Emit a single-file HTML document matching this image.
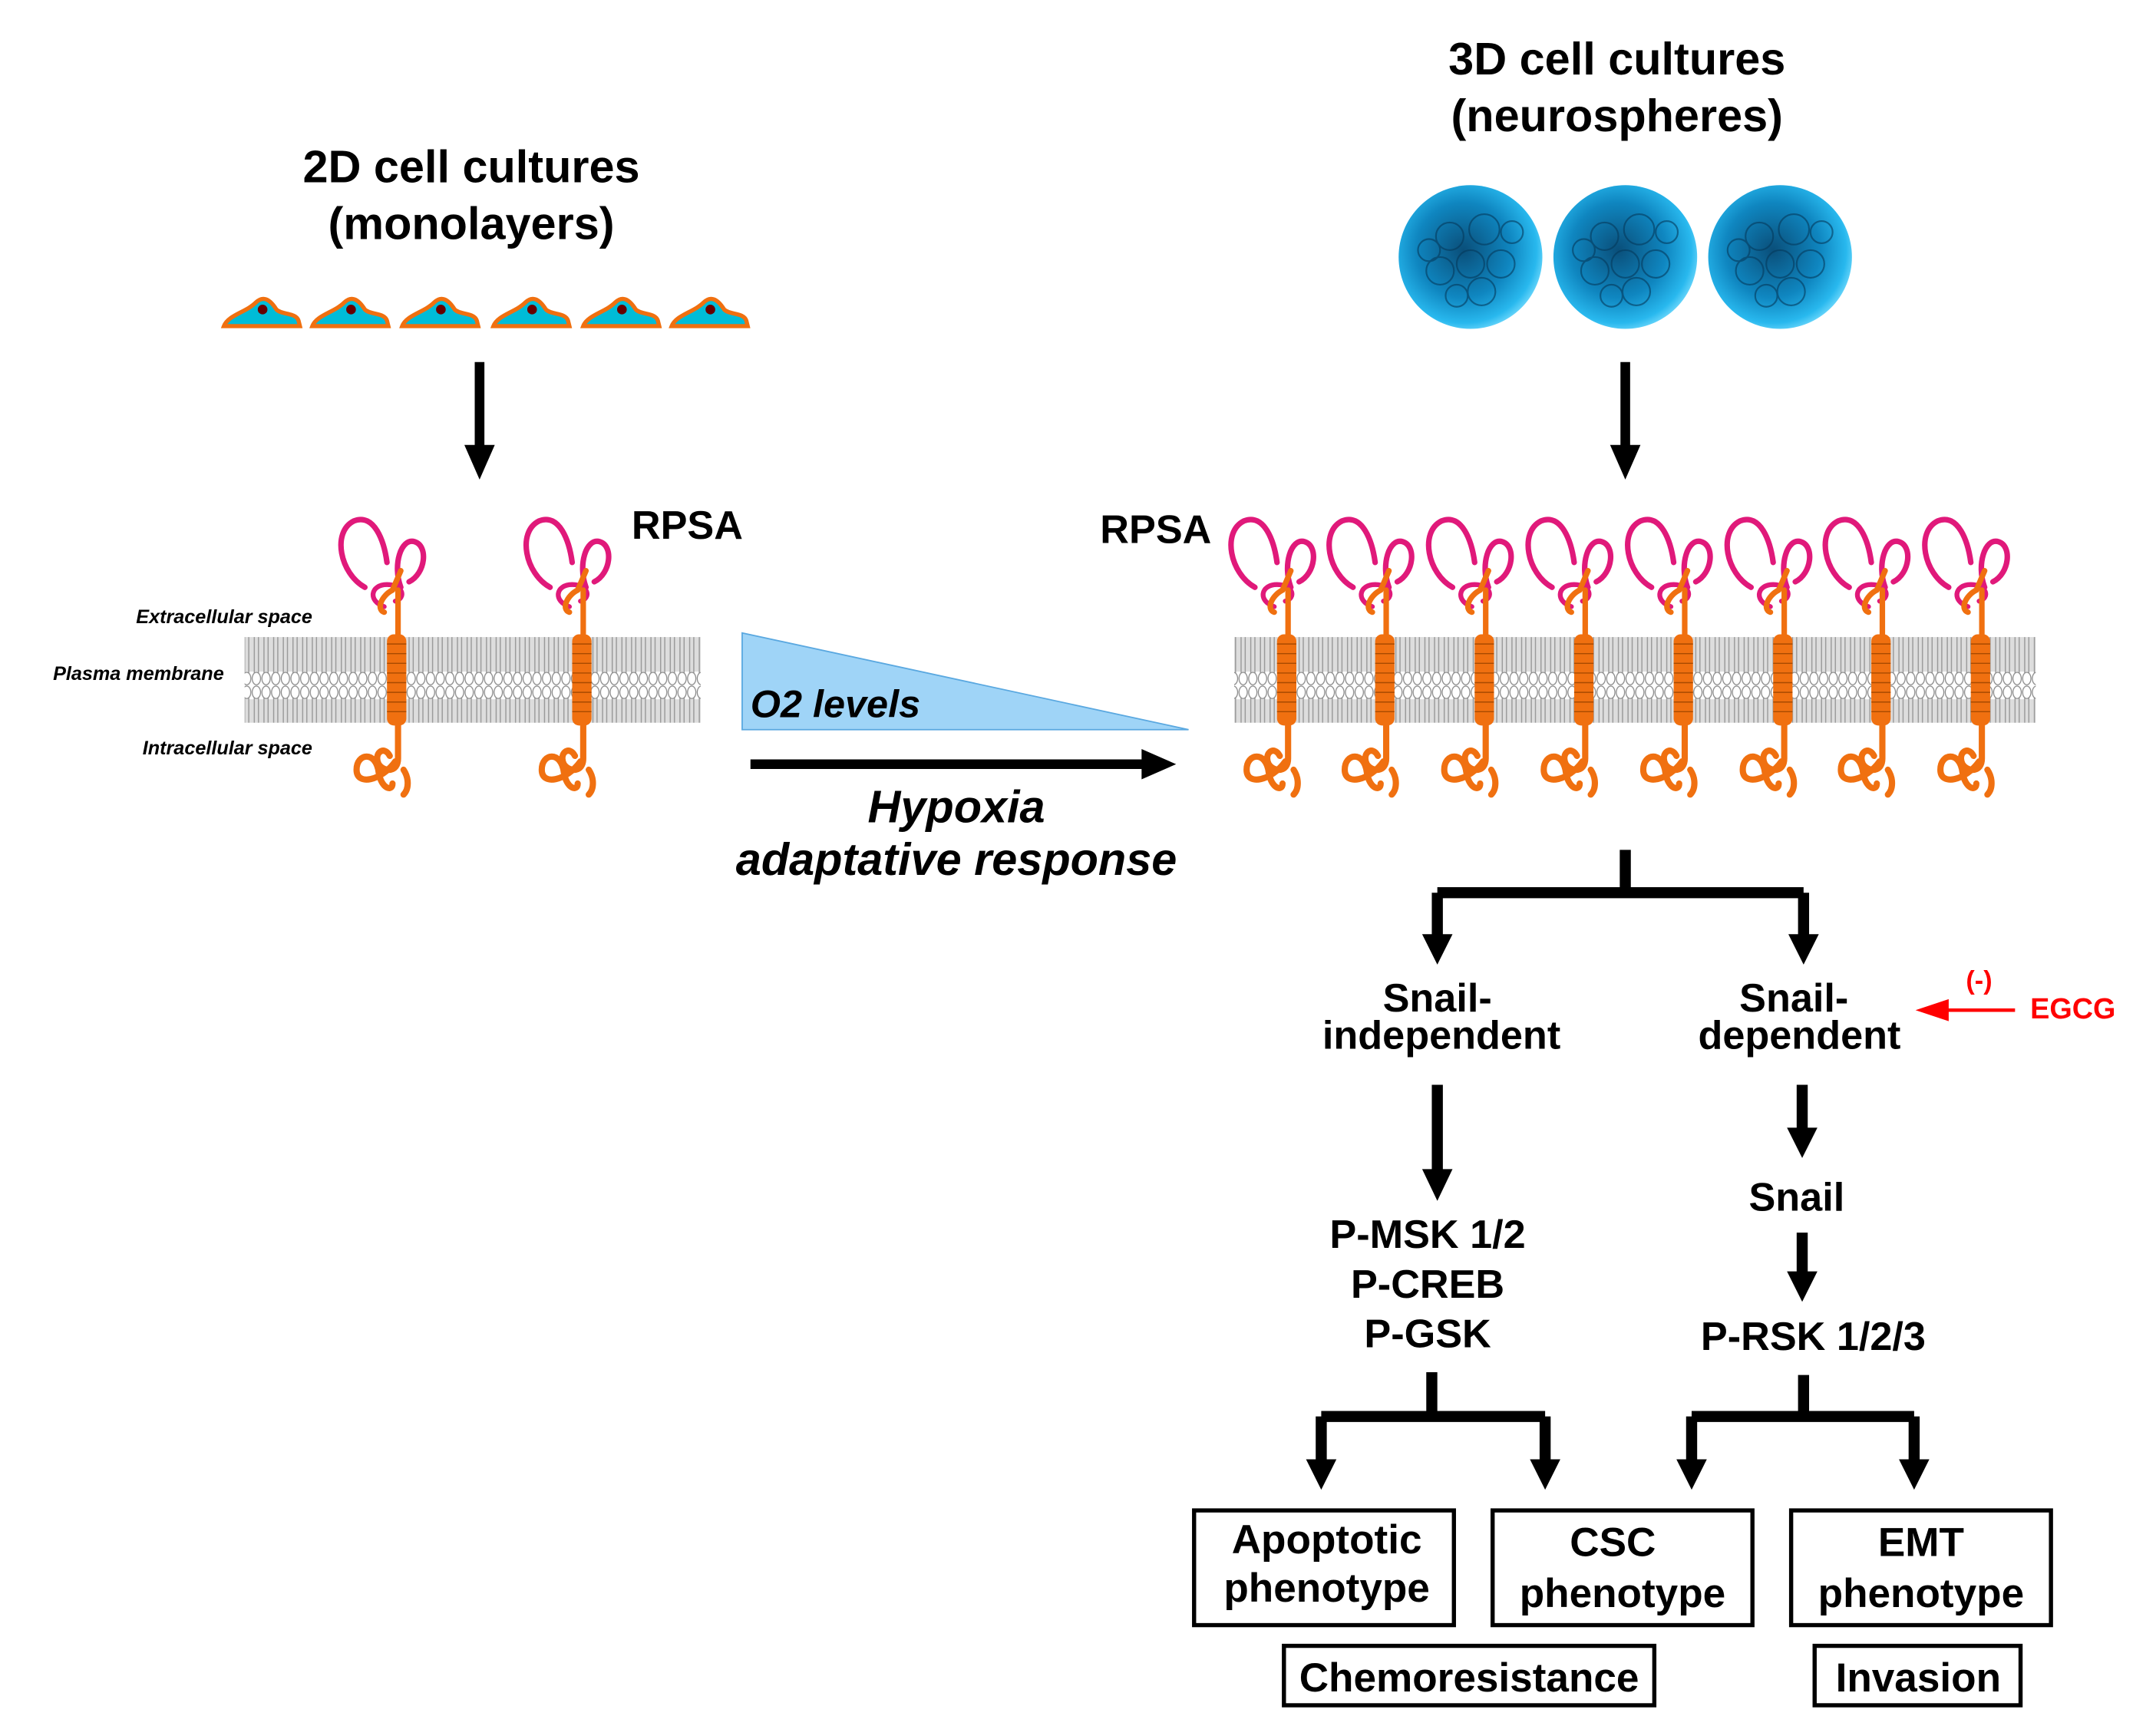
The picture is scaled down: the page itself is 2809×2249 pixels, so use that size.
<!DOCTYPE html>
<html><head><meta charset="utf-8"><style>
html,body{margin:0;padding:0;background:#fff;}
svg{display:block;}
text{font-family:"Liberation Sans",Arial,sans-serif;font-weight:bold;}
</style></head><body>
<svg width="2809" height="2249" viewBox="0 0 1560 1249" xmlns="http://www.w3.org/2000/svg">
<defs>
<pattern id="lip" x="0" y="0" width="7" height="62" patternUnits="userSpaceOnUse">
<rect x="0" y="0" width="7" height="62" fill="#fff"/>
<rect x="0" y="10" width="7" height="42" fill="#cfcfcf" opacity="0.7"/>
<line x1="2" y1="7" x2="2" y2="55" stroke="#999" stroke-width="0.8"/>
<line x1="5" y1="7" x2="5" y2="55" stroke="#999" stroke-width="0.8"/>
<ellipse cx="3.5" cy="5" rx="3" ry="4.5" fill="#fff" stroke="#888" stroke-width="0.7"/>
<ellipse cx="3.5" cy="57" rx="3" ry="4.5" fill="#fff" stroke="#888" stroke-width="0.7"/>
</pattern>
<radialGradient id="sph" cx="0.45" cy="0.45" r="0.6">
<stop offset="0" stop-color="#0a4f7a"/><stop offset="0.55" stop-color="#0f86c0"/><stop offset="0.85" stop-color="#28b8ee"/><stop offset="1" stop-color="#7fe0ff"/>
</radialGradient>
<symbol id="rec" viewBox="-40 -90 80 200" width="80" height="200" overflow="visible">
<g fill="none" stroke-linecap="round">
<path d="M-22,-22 C-40,-32 -46,-62 -30,-70 C-15,-76 -8,-55 -6,-40" stroke="#e0197a" stroke-width="4"/>
<path d="M4,-22 C-2,-38 4,-58 14,-55 C24,-52 22,-32 10,-26" stroke="#e0197a" stroke-width="4"/>
<path d="M-8,-8 C-20,-12 -18,-24 -6,-24 C6,-24 8,-14 0,-12" stroke="#e0197a" stroke-width="3.5"/>
<path d="M4,-34 L-2,-20 C-10,-16 -14,-6 -8,-4 M2,-20 L2,14" stroke="#f07010" stroke-width="4"/>
<path d="M2,76 L2,102 C2,112 -8,112 -12,106 C-16,98 -8,92 -4,100 M0,104 C-10,118 -28,122 -28,110 C-28,98 -14,96 -12,112 C-10,124 -2,126 -2,120 M6,110 C10,116 10,124 6,128" stroke="#f07010" stroke-width="4.5"/>
</g>
<rect x="-6" y="12" width="14" height="66" rx="5" fill="#f07010"/>
<g stroke="#a84a00" stroke-width="0.8" fill="none">
<path d="M-6,19 h14 M-6,26 h14 M-6,33 h14 M-6,40 h14 M-6,47 h14 M-6,54 h14 M-6,61 h14 M-6,68 h14"/>
</g>
</symbol>
<g id="bumps" fill="none" stroke="#053a5c" stroke-width="1.2" opacity="0.6">
<circle cx="-15" cy="-15" r="10"/><circle cx="10" cy="-20" r="11"/><circle cx="22" cy="5" r="10"/><circle cx="0" cy="5" r="10"/><circle cx="-22" cy="10" r="10"/><circle cx="8" cy="25" r="10"/><circle cx="-10" cy="28" r="8"/><circle cx="-30" cy="-5" r="8"/><circle cx="30" cy="-18" r="8"/>
</g>
</defs>

<!-- titles -->
<text x="341" y="132" font-size="33" text-anchor="middle">2D cell cultures</text>
<text x="341" y="173" font-size="33" text-anchor="middle">(monolayers)</text>
<text x="1170" y="54" font-size="33" text-anchor="middle">3D cell cultures</text>
<text x="1170" y="95" font-size="33" text-anchor="middle">(neurospheres)</text>

<!-- cells -->
<g stroke="#f07010" stroke-width="3" fill="#00bcd8">
<path d="M162,236 C165,228 178,226 185,219 C190,214 195,216 200,224 C204,228 214,226 216,232 L217,236 Z"/>
<path d="M226,236 C229,228 242,226 249,219 C254,214 259,216 264,224 C268,228 278,226 280,232 L281,236 Z"/>
<path d="M291,236 C294,228 307,226 314,219 C319,214 324,216 329,224 C333,228 343,226 345,232 L346,236 Z"/>
<path d="M357,236 C360,228 373,226 380,219 C385,214 390,216 395,224 C399,228 409,226 411,232 L412,236 Z"/>
<path d="M422,236 C425,228 438,226 445,219 C450,214 455,216 460,224 C464,228 474,226 476,232 L477,236 Z"/>
<path d="M486,236 C489,228 502,226 509,219 C514,214 519,216 524,224 C528,228 538,226 540,232 L541,236 Z"/>
</g>
<g fill="#600"><circle cx="190" cy="224" r="3.5"/><circle cx="254" cy="224" r="3.5"/><circle cx="319" cy="224" r="3.5"/><circle cx="385" cy="224" r="3.5"/><circle cx="450" cy="224" r="3.5"/><circle cx="514" cy="224" r="3.5"/></g>

<!-- spheres -->
<circle cx="1064" cy="186" r="52" fill="url(#sph)"/>
<circle cx="1176" cy="186" r="52" fill="url(#sph)"/>
<circle cx="1288" cy="186" r="52" fill="url(#sph)"/>
<use href="#bumps" x="1064" y="186"/>
<use href="#bumps" x="1176" y="186"/>
<use href="#bumps" x="1288" y="186"/>

<!-- down arrows -->
<g stroke="#000" stroke-width="7">
<line x1="347" y1="262" x2="347" y2="325"/>
<line x1="1176" y1="262" x2="1176" y2="325"/>
</g>
<path d="M336,322 L358,322 L347,347 Z M1165,322 L1187,322 L1176,347 Z"/>

<!-- membranes -->
<rect x="177" y="461" width="330" height="62" fill="url(#lip)"/>
<rect x="893" y="461" width="580" height="62" fill="url(#lip)"/>
<text x="226" y="451" font-size="14" font-style="italic" font-weight="normal" text-anchor="end">Extracellular space</text>
<text x="162" y="492" font-size="14" font-style="italic" font-weight="normal" text-anchor="end">Plasma membrane</text>
<text x="226" y="546" font-size="14" font-style="italic" font-weight="normal" text-anchor="end">Intracellular space</text>

<!-- receptors -->
<g>
<use href="#rec" x="246" y="357"/>
<use href="#rec" x="380" y="357"/>
<use href="#rec" x="890" y="357"/>
<use href="#rec" x="961" y="357"/>
<use href="#rec" x="1033" y="357"/>
<use href="#rec" x="1105" y="357"/>
<use href="#rec" x="1177" y="357"/>
<use href="#rec" x="1249" y="357"/>
<use href="#rec" x="1320" y="357"/>
<use href="#rec" x="1392" y="357"/>
</g>
<text x="457" y="390" font-size="29">RPSA</text>
<text x="796" y="393" font-size="29">RPSA</text>

<!-- O2 triangle -->
<path d="M537,458 L537,528 L860,528 Z" fill="#9fd4f7" stroke="#5aa8e0" stroke-width="1"/>
<text x="543" y="519" font-size="28" font-style="italic">O2 levels</text>
<line x1="543" y1="553" x2="830" y2="553" stroke="#000" stroke-width="7"/>
<path d="M826,542 L851,553 L826,564 Z"/>
<text x="692" y="595" font-size="33" font-style="italic" text-anchor="middle">Hypoxia</text>
<text x="692" y="633" font-size="33" font-style="italic" text-anchor="middle">adaptative response</text>

<!-- tree -->
<g stroke="#000" stroke-width="8" fill="none">
<path d="M1176,615 V646 M1040,646 H1305 M1040,646 V678 M1305,646 V678"/>
<path d="M1040,785 V848 M1304,785 V818 M1304,892 V922"/>
<path d="M1036,993 V1025 M956,1025 H1118 M956,1025 V1058 M1118,1025 V1058"/>
<path d="M1305,995 V1025 M1224,1025 H1385 M1224,1025 V1058 M1385,1025 V1058"/>
</g>
<g fill="#000">
<path d="M1029,676 L1051,676 L1040,698 Z M1294,676 L1316,676 L1305,698 Z"/>
<path d="M1029,846 L1051,846 L1040,869 Z M1293,816 L1315,816 L1304,838 Z M1293,920 L1315,920 L1304,942 Z"/>
<path d="M945,1056 L967,1056 L956,1078 Z M1107,1056 L1129,1056 L1118,1078 Z M1213,1056 L1235,1056 L1224,1078 Z M1374,1056 L1396,1056 L1385,1078 Z"/>
</g>

<g font-size="29" text-anchor="middle">
<text x="1040" y="732">Snail-</text>
<text x="1043" y="759">independent</text>
<text x="1298" y="732">Snail-</text>
<text x="1302" y="759">dependent</text>
<text x="1300" y="876">Snail</text>
<text x="1033" y="903">P-MSK 1/2</text>
<text x="1033" y="939">P-CREB</text>
<text x="1033" y="975">P-GSK</text>
<text x="1312" y="977">P-RSK 1/2/3</text>
</g>

<!-- EGCG -->
<line x1="1408" y1="731" x2="1458" y2="731" stroke="#f00" stroke-width="2.5"/>
<path d="M1386,731 L1410,723 L1410,739 Z" fill="#f00"/>
<text x="1432" y="716" font-size="19" fill="#f00" font-weight="normal" text-anchor="middle">(-)</text>
<text x="1469" y="737" font-size="21" fill="#f00">EGCG</text>

<!-- boxes -->
<g fill="#fff" stroke="#000" stroke-width="3">
<rect x="864" y="1093" width="188" height="83"/>
<rect x="1080" y="1093" width="188" height="83"/>
<rect x="1296" y="1093" width="188" height="83"/>
<rect x="929" y="1191" width="268" height="43"/>
<rect x="1313" y="1191" width="149" height="43"/>
</g>
<g font-size="29.5" text-anchor="middle">
<text x="960" y="1124">Apoptotic</text>
<text x="960" y="1159">phenotype</text>
<text x="1167" y="1126">CSC</text>
<text x="1174" y="1163">phenotype</text>
<text x="1390" y="1126">EMT</text>
<text x="1390" y="1163">phenotype</text>
<text x="1063" y="1224">Chemoresistance</text>
<text x="1388" y="1224">Invasion</text>
</g>
</svg>
</body></html>
